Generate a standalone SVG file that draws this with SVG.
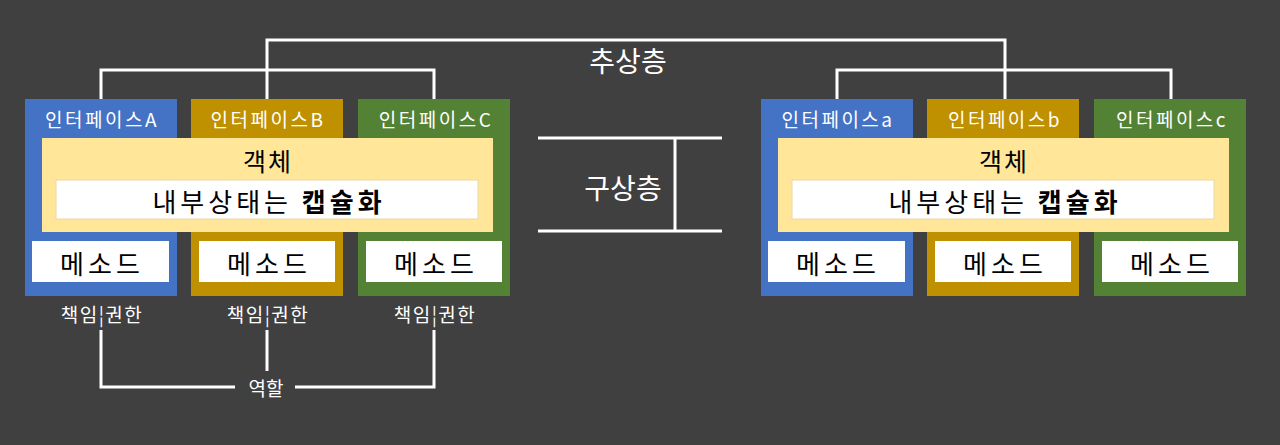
<svg xmlns="http://www.w3.org/2000/svg" width="1280" height="445" viewBox="0 0 1280 445">
<style>
text{font-family:"Noto Sans CJK KR","Noto Sans",sans-serif;text-anchor:middle;dominant-baseline:central}
.blue{fill:#4472C4}.gold{fill:#BF9000}.green{fill:#548235}
.obj{fill:#FFE699}
.wbox{fill:#FFFFFF}
.inner{fill:#FFFFFF;stroke:#E8D9A8;stroke-width:1}
.lbl{fill:#FFFFFF;font-size:19px}
.ifl{fill:#FFFFFF;font-size:19px;letter-spacing:2.5px}
.big{fill:#000000;font-size:25px}
.enc{fill:#000000;font-size:26px;letter-spacing:4px}
.meth{fill:#000000;font-size:26px;letter-spacing:4px}
.resp{fill:#FFFFFF;font-size:19px;letter-spacing:1.5px}
.hdr{fill:#FFFFFF;font-size:28px}
.ln{fill:none;stroke:#FFFFFF;stroke-width:3}
</style>
<rect width="1280" height="445" fill="#404040"/>
<g id="connectors">
<polyline class="ln" points="267,99 267,40 1005,40 1005,99"/>
<polyline class="ln" points="101,99 101,70 434,70 434,99"/>
<polyline class="ln" points="837,99 837,70 1171,70 1171,99"/>
<line class="ln" x1="538" y1="138" x2="722" y2="138"/>
<line class="ln" x1="538" y1="231" x2="722" y2="231"/>
<line class="ln" x1="675" y1="138" x2="675" y2="231"/>
<polyline class="ln" points="101,330 101,387 235,387"/>
<polyline class="ln" points="295,387 434,387 434,330"/>
<line class="ln" x1="267" y1="330" x2="267" y2="371"/>
</g>
<g id="abstract-label"><text class="hdr" x="628" y="60">추상층</text></g>
<g id="concrete-label"><text class="hdr" x="623" y="187">구상층</text></g>
<g id="group-left">
<g id="ifA"><rect class="blue" x="25" y="99" width="152" height="197"/><text class="ifl" x="102" y="118">인터페이스A</text></g>
<g id="ifB"><rect class="gold" x="191" y="99" width="152" height="197"/><text class="ifl" x="268" y="118">인터페이스B</text></g>
<g id="ifC"><rect class="green" x="358" y="99" width="152" height="197"/><text class="ifl" x="436" y="118">인터페이스C</text></g>
<g id="objL"><rect class="obj" x="42" y="138" width="451" height="94"/><text class="big" x="268" y="160" letter-spacing="2">객체</text>
<rect class="inner" x="56" y="180" width="422" height="39"/><text class="enc" x="269" y="200">내부상태는 <tspan font-weight="bold">캡슐화</tspan></text></g>
<g id="mA"><rect class="wbox" x="32" y="241" width="137" height="41"/><text class="meth" x="102" y="262">메소드</text></g>
<g id="mB"><rect class="wbox" x="199" y="241" width="136" height="41"/><text class="meth" x="269" y="262">메소드</text></g>
<g id="mC"><rect class="wbox" x="366" y="241" width="136" height="41"/><text class="meth" x="436" y="262">메소드</text></g>
<g id="rA"><text class="resp" x="102" y="313">책임¦권한</text></g>
<g id="rB"><text class="resp" x="268" y="313">책임¦권한</text></g>
<g id="rC"><text class="resp" x="435" y="313">책임¦권한</text></g>
<g id="role"><text class="lbl" x="266" y="387">역할</text></g>
</g>
<g id="group-right">
<g id="ifa"><rect class="blue" x="761" y="99" width="152" height="197"/><text class="ifl" x="838" y="118">인터페이스a</text></g>
<g id="ifb"><rect class="gold" x="927" y="99" width="152" height="197"/><text class="ifl" x="1005" y="118">인터페이스b</text></g>
<g id="ifc"><rect class="green" x="1094" y="99" width="152" height="197"/><text class="ifl" x="1172" y="118">인터페이스c</text></g>
<g id="objR"><rect class="obj" x="778" y="138" width="451" height="94"/><text class="big" x="1004" y="160" letter-spacing="2">객체</text>
<rect class="inner" x="792" y="180" width="422" height="39"/><text class="enc" x="1005" y="200">내부상태는 <tspan font-weight="bold">캡슐화</tspan></text></g>
<g id="ma"><rect class="wbox" x="768" y="241" width="137" height="41"/><text class="meth" x="838" y="262">메소드</text></g>
<g id="mb"><rect class="wbox" x="935" y="241" width="136" height="41"/><text class="meth" x="1005" y="262">메소드</text></g>
<g id="mc"><rect class="wbox" x="1102" y="241" width="136" height="41"/><text class="meth" x="1172" y="262">메소드</text></g>
</g>
</svg>
